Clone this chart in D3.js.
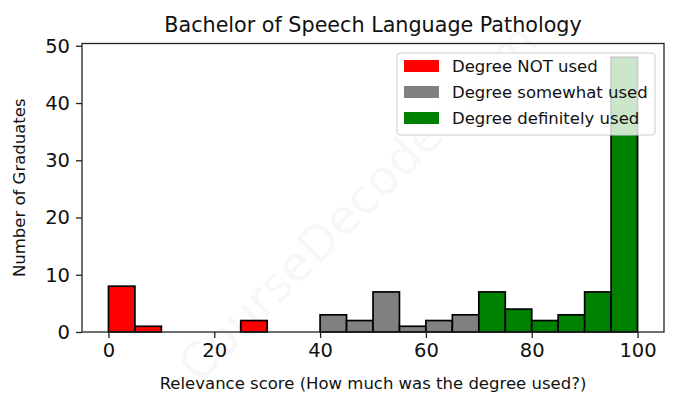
<!DOCTYPE html>
<html>
<head>
<meta charset="utf-8">
<script src="https://cdn.jsdelivr.net/npm/d3@7"></script>
<style>
  body { margin: 0; background: #fff; }
  text { font-family: "DejaVu Sans", sans-serif; }
</style>
</head>
<body>
<script>
// histogram bins (left edges), width 5
const binStarts = [0, 5, 10, 15, 20, 25, 30, 35, 40, 45, 50, 55, 60, 65, 70, 75, 80, 85, 90, 95];
const counts = [8, 1, 0, 0, 0, 2, 0, 0, 3, 2, 7, 1, 2, 3, 7, 4, 2, 3, 7, 48];
const binWidth = 5;
const xTicks = [0, 20, 40, 60, 80, 100];
const yTicks = [0, 10, 20, 30, 40, 50];
const legendLabels = ['Degree NOT used', 'Degree somewhat used', 'Degree definitely used'];
const legendColors = ['#ff0000', '#808080', '#008000'];

const W = 678, H = 408;
const margin = { top: 43.5, right: 14, bottom: 76, left: 82 };

const svg = d3.select('body').append('svg')
    .attr('width', W)
    .attr('height', H);

const x = d3.scaleLinear().domain([-5, 105]).range([margin.left, W - margin.right]);
const y = d3.scaleLinear().domain([0, 50.4]).range([H - margin.bottom, margin.top]);

function colorFor(start) {
    if (start < 40) return legendColors[0];
    if (start < 70) return legendColors[1];
    return legendColors[2];
}

// watermark
svg.append('text')
    .attr('x', 360)
    .attr('y', 205)
    .attr('transform', 'rotate(-45, 360, 205)')
    .attr('text-anchor', 'middle')
    .attr('dominant-baseline', 'middle')
    .style('font-size', '48px')
    .style('fill', '#000')
    .style('fill-opacity', 0.05)
    .text('CourseDecoder.com');

const bars = binStarts.map((s, i) => ({ start: s, count: counts[i] })).filter(d => d.count > 0);

svg.selectAll('.bar').data(bars)
    .enter()
    .append('rect')
    .attr('class', 'bar')
    .attr('x', d => x(d.start))
    .attr('y', d => y(d.count))
    .attr('width', d => x(d.start + binWidth) - x(d.start))
    .attr('height', d => y(0) - y(d.count))
    .attr('fill', d => colorFor(d.start))
    .attr('stroke', '#000')
    .attr('stroke-width', 1.7);

// axes
const xAxis = svg.append('g')
    .attr('transform', `translate(0, ${H - margin.bottom})`)
    .call(d3.axisBottom(x).tickValues(xTicks).tickSize(6).tickPadding(5).tickFormat(d3.format('d')));
const yAxis = svg.append('g')
    .attr('transform', `translate(${margin.left}, 0)`)
    .call(d3.axisLeft(y).tickValues(yTicks).tickSize(6).tickPadding(6));

[xAxis, yAxis].forEach(a => {
    a.select('.domain').remove();
    a.selectAll('line').attr('stroke', '#222').attr('stroke-width', 1.3);
    a.selectAll('text').style('font-size', '19.5px').attr('fill', '#111');
});

// frame
svg.append('rect')
    .attr('x', margin.left)
    .attr('y', margin.top)
    .attr('width', W - margin.left - margin.right)
    .attr('height', H - margin.bottom - margin.top)
    .attr('fill', 'none')
    .attr('stroke', '#222')
    .attr('stroke-width', 1.3);

// legend
const lg = svg.append('g').attr('transform', 'translate(397, 53)');
lg.append('rect')
    .attr('width', 258)
    .attr('height', 82)
    .attr('rx', 3)
    .attr('fill', '#fff')
    .attr('fill-opacity', 0.8)
    .attr('stroke', '#ccc')
    .attr('stroke-width', 1);
legendLabels.forEach((lab, i) => {
    lg.append('rect')
        .attr('x', 7)
        .attr('y', 7 + i * 26)
        .attr('width', 35)
        .attr('height', 12)
        .attr('fill', legendColors[i]);
    lg.append('text')
        .attr('x', 55)
        .attr('y', 13.5 + i * 26)
        .attr('dominant-baseline', 'central')
        .style('font-size', '16.5px')
        .attr('fill', '#111')
        .text(lab);
});

// titles
svg.append('text')
    .attr('x', (margin.left + W - margin.right) / 2)
    .attr('y', 31.5)
    .attr('text-anchor', 'middle')
    .style('font-size', '20.7px')
    .attr('fill', '#111')
    .text('Bachelor of Speech Language Pathology');

svg.append('text')
    .attr('x', (margin.left + W - margin.right) / 2)
    .attr('y', 389)
    .attr('text-anchor', 'middle')
    .style('font-size', '16.5px')
    .attr('fill', '#111')
    .text('Relevance score (How much was the degree used?)');

svg.append('text')
    .attr('transform', `translate(25, ${(margin.top + H - margin.bottom) / 2}) rotate(-90)`)
    .attr('text-anchor', 'middle')
    .style('font-size', '16.5px')
    .attr('fill', '#111')
    .text('Number of Graduates');
</script>
</body>
</html>
